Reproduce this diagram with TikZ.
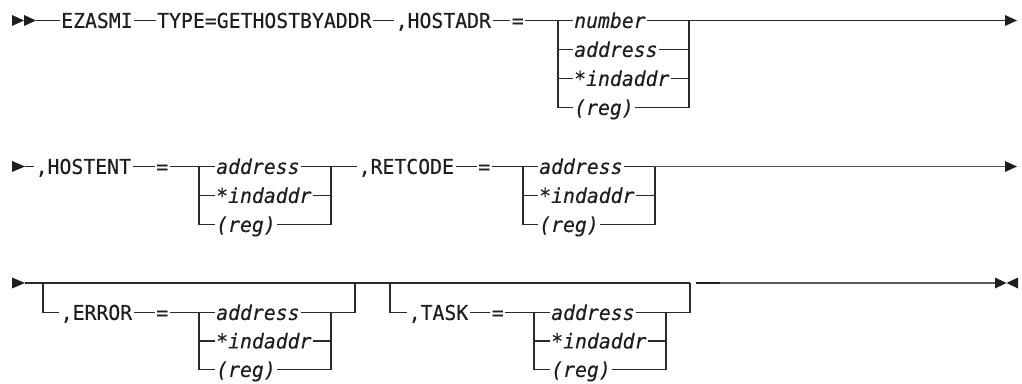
\documentclass[tikz,border=0pt]{standalone}
\usepackage{fontspec}
\newfontfamily\dvm{DejaVu Sans Mono}[FakeStretch=0.965,FakeBold=0.35]
\newfontfamily\dvmi{DejaVu Sans Mono Oblique}[FakeStretch=0.965,FakeBold=0.35]
\definecolor{lc}{HTML}{2A2A2A}
\definecolor{lg}{HTML}{5A5A5A}
\definecolor{tc}{HTML}{1E1E1E}
\begin{document}
\begin{tikzpicture}[x=1pt,y=-1pt,
  rr/.style={line width=1.35pt, draw=lc},
  rg/.style={line width=1.6pt, draw=lg},
  kw/.style={font=\dvm\fontsize{20.5}{22}\selectfont, text=tc, inner xsep=1.5pt, inner ysep=0pt, text height=14.9pt, text depth=0pt, anchor=west},
  vr/.style={kw, font=\dvmi\fontsize{20.5}{22}\selectfont},
  tipf/.style={fill=tc}]
\useasboundingbox (0,0) rectangle (1022,383);

% ---------- Row 1 ----------
\fill[tipf] (12,15) -- (24,20.5) -- (12,26) -- cycle;
\fill[tipf] (24,15) -- (36,20.5) -- (24,26) -- cycle;
\coordinate (s1) at (36,20.5);
\node[kw] (ez) at (59.5,20.5) {EZASMI};
\node[kw] (ty) at (155.5,20.5) {TYPE=GETHOSTBYADDR};
\node[kw] (ha) at (394,20.5) {,HOSTADR};
\node[kw] (eq1) at (510,20.5) {=};
\coordinate (b1l) at (558,20.5);
\node[vr] (n1) at (572.5,20.5) {number};
\node[vr] (a1) at (572.5,49.5) {address};
\node[vr] (i1) at (572.5,78.5) {*indaddr};
\node[vr] (r1) at (572.5,107.5) {(reg)};
\coordinate (b1r) at (689,20.5);
\coordinate (e1) at (1005,20.5);
\draw[rr] (s1) -- (ez.west);
\draw[rr] (ez.east) -- (ty.west);
\draw[rr] (ty.east) -- (ha.west);
\draw[rr] (ha.east) -- (eq1.west);
\draw[rr] (eq1.east) -- (n1.west);
\draw[rr] (b1l) |- (r1.west);
\draw[rr] (b1l |- a1.west) -- (a1.west);
\draw[rr] (b1l |- i1.west) -- (i1.west);
\draw[rr] (n1.east) -- (e1);
\draw[rr] (a1.east) -- (a1.east -| b1r);
\draw[rr] (i1.east) -- (i1.east -| b1r);
\draw[rr] (r1.east) -| (b1r);
\fill[tipf] (1005,15) -- (1017,20.5) -- (1005,26) -- cycle;

% ---------- Row 2 ----------
\fill[tipf] (12,161) -- (25,166.5) -- (12,172) -- cycle;
\coordinate (s2) at (25,166.5);
\node[kw] (he) at (34,166.5) {,HOSTENT};
\node[kw] (eq2) at (154.5,166.5) {=};
\coordinate (b2l) at (199,166.5);
\node[vr] (a2) at (214.5,166.5) {address};
\node[vr] (i2) at (214.5,195.5) {*indaddr};
\node[vr] (r2) at (214.5,224.5) {(reg)};
\coordinate (b2r) at (331,166.5);
\node[kw] (rc) at (357,166.5) {,RETCODE};
\node[kw] (eq3) at (476.5,166.5) {=};
\coordinate (b3l) at (523,166.5);
\node[vr] (a3) at (537.5,166.5) {address};
\node[vr] (i3) at (537.5,195.5) {*indaddr};
\node[vr] (r3) at (537.5,224.5) {(reg)};
\coordinate (b3r) at (655,166.5);
\coordinate (e2) at (1005,166.5);
\draw[rr] (s2) -- (he.west);
\draw[rr] (he.east) -- (eq2.west);
\draw[rr] (eq2.east) -- (a2.west);
\draw[rr] (b2l) |- (r2.west);
\draw[rr] (b2l |- i2.west) -- (i2.west);
\draw[rr] (a2.east) -- (rc.west);
\draw[rr] (i2.east) -- (i2.east -| b2r);
\draw[rr] (r2.east) -| (b2r);
\draw[rr] (rc.east) -- (eq3.west);
\draw[rr] (eq3.east) -- (a3.west);
\draw[rr] (b3l) |- (r3.west);
\draw[rr] (b3l |- i3.west) -- (i3.west);
\draw[rr] (a3.east) -- (b3r);
\draw[rg] (b3r) -- (e2);
\draw[rr] (i3.east) -- (i3.east -| b3r);
\draw[rr] (r3.east) -| (b3r);
\fill[tipf] (1005,161) -- (1017,166.5) -- (1005,172) -- cycle;

% ---------- Row 3 ----------
\fill[tipf] (12,277.5) -- (25,283) -- (12,288.5) -- cycle;
\coordinate (s3) at (25,283);
\coordinate (o1l) at (43,283);
\coordinate (o1r) at (355,283);
\coordinate (o2l) at (390,283);
\coordinate (o2r) at (690,283);
\node[kw] (er) at (59,312.5) {,ERROR};
\node[kw] (eq4) at (154.5,312.5) {=};
\coordinate (b4l) at (199,312.5);
\node[vr] (a4) at (214.5,312.5) {address};
\node[vr] (i4) at (214.5,341) {*indaddr};
\node[vr] (r4) at (214.5,369.5) {(reg)};
\coordinate (b4r) at (331,312.5);
\node[kw] (tk) at (407,312.5) {,TASK};
\node[kw] (eq5) at (490,312.5) {=};
\coordinate (b5l) at (534,312.5);
\node[vr] (a5) at (549.5,312.5) {address};
\node[vr] (i5) at (549.5,341) {*indaddr};
\node[vr] (r5) at (549.5,369.5) {(reg)};
\coordinate (b5r) at (666,312.5);
\coordinate (d1) at (696,283);
\coordinate (d2) at (720,283);
\coordinate (e3) at (995,283);
\draw[rr] (s3) -- (o2r);
\draw[rr] (o1l) |- (er.west);
\draw[rr] (er.east) -- (eq4.west);
\draw[rr] (eq4.east) -- (a4.west);
\draw[rr] (b4l) |- (r4.west);
\draw[rr] (b4l |- i4.west) -- (i4.west);
\draw[rr] (a4.east) -| (o1r);
\draw[rr] (i4.east) -- (i4.east -| b4r);
\draw[rr] (r4.east) -| (b4r);
\draw[rr] (o2l) |- (tk.west);
\draw[rr] (tk.east) -- (eq5.west);
\draw[rr] (eq5.east) -- (a5.west);
\draw[rr] (b5l) |- (r5.west);
\draw[rr] (b5l |- i5.west) -- (i5.west);
\draw[rr] (a5.east) -| (o2r);
\draw[rr] (i5.east) -- (i5.east -| b5r);
\draw[rr] (r5.east) -| (b5r);
\draw[line width=1.8pt, draw=tc] (d1) -- (d2);
\draw[rg] (d2) -- (e3);
\fill[tipf] (995,277.5) -- (1006.5,283) -- (995,288.5) -- cycle;
\fill[tipf] (1018,277.5) -- (1006.5,283) -- (1018,288.5) -- cycle;
\end{tikzpicture}
\end{document}
